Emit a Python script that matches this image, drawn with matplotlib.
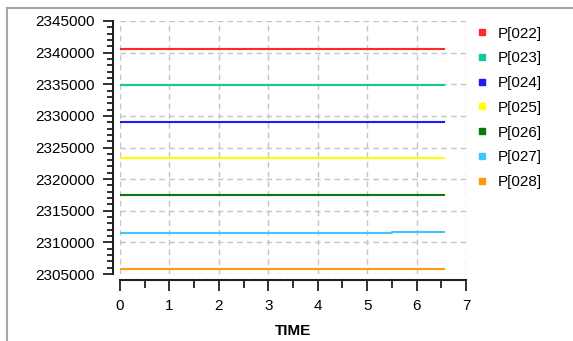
import numpy as np
import matplotlib.pyplot as plt
from matplotlib.lines import Line2D
from matplotlib.ticker import MultipleLocator

# ==============================
# data
# ==============================
time = [0.0, 5.5, 6.55]

names = ["P[022]", "P[023]", "P[024]", "P[025]", "P[026]", "P[027]", "P[028]"]
p022 = [2340600, 2340600, 2340600]
p023 = [2334850, 2334850, 2334850]
p024 = [2329080, 2329080, 2329080]
p025 = [2323300, 2323300, 2323300]
p026 = [2317520, 2317520, 2317520]
p027 = [2311500, 2311650, 2311650]
p028 = [2305760, 2305760, 2305760]
series = [p022, p023, p024, p025, p026, p027, p028]

colors = ["#ff2a2a", "#12c99b", "#1a1aff", "#ffff00", "#0b7a0b", "#3cc8ff", "#ff9a10"]

plt.rcParams["font.family"] = ["Liberation Sans", "DejaVu Sans"]
plt.rcParams["font.size"] = 11

W, H = 573, 341
fig = plt.figure(figsize=(W / 100, H / 100), dpi=100)

# window frame (top and left gray edge)
fig.add_artist(Line2D([7 / W, 1], [1 - 8 / H, 1 - 8 / H], color="#a8a8a0", lw=1.5))
fig.add_artist(Line2D([7 / W, 7 / W], [0, 1 - 8 / H], color="#a8a8a0", lw=1.5))

ax = fig.add_axes([120 / W, 1 - 274 / H, 346 / W, 253 / H])

for vals, c in zip(series, colors):
    ax.plot(time, vals, drawstyle="steps-post", color=c, lw=1.5)

ax.set_xlim(0, 7)
ax.set_ylim(2305000, 2345000)
ax.xaxis.set_major_locator(MultipleLocator(1))
ax.xaxis.set_minor_locator(MultipleLocator(0.5))
ax.yaxis.set_major_locator(MultipleLocator(5000))
ax.yaxis.set_minor_locator(MultipleLocator(1000))
ax.ticklabel_format(axis="y", style="plain", useOffset=False)

ax.grid(True, which="major", color="#c4c4c4", linestyle=(0, (4, 3)), lw=1)
for s in ["top", "right"]:
    ax.spines[s].set_visible(False)
ax.spines["left"].set_position(("outward", 5))
ax.spines["bottom"].set_position(("outward", 4))
ax.spines["left"].set_linewidth(1.5)
ax.spines["bottom"].set_linewidth(1.5)
ax.spines["left"].set_color("#202020")
ax.spines["bottom"].set_color("#202020")

ax.tick_params(axis="y", which="major", length=7, width=1.3, pad=6, color="#202020")
ax.tick_params(axis="y", which="minor", length=4, width=1.3, color="#202020")
ax.tick_params(axis="x", which="major", length=8, width=1.3, pad=6, color="#202020")
ax.tick_params(axis="x", which="minor", length=6, width=1.3, color="#202020")

ax.set_xlabel("TIME", fontweight="bold", labelpad=8)

handles = [Line2D([], [], ls="none", marker="s", ms=5, mfc=c, mec=c) for c in colors]
fig.legend(handles, names, loc="upper left", bbox_to_anchor=(459 / W, 1 - 13 / H),
           frameon=False, handletextpad=0.45, handlelength=1.2, labelspacing=0.7,
           fontsize=11)

fig.savefig("out.png", dpi=100, facecolor="white")
